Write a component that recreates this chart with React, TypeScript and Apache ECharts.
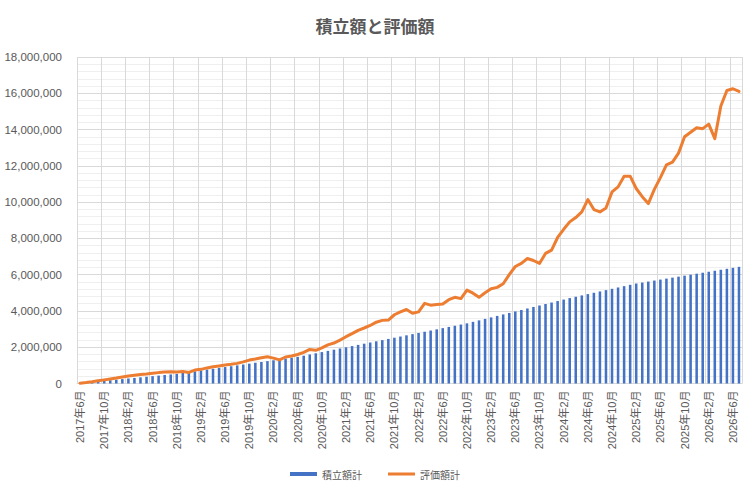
import React, { useEffect, useRef } from "react";
import * as echarts from "echarts";

// 2017年6月 .. 2026年7月 (110 months)
const categories: string[] = [];
for (let y = 2017; y <= 2026; y++) {
  for (let m = 1; m <= 12; m++) {
    if (y === 2017 && m < 6) continue;
    if (y === 2026 && m > 7) continue;
    categories.push(`${y}年${m}月`);
  }
}

// 積立額計 (thousand yen)
const contributionK = [
  20, 52, 84, 116, 148, 180, 212, 244, 276, 308,
  340, 372, 404, 436, 468, 500, 532, 579, 626, 672,
  719, 766, 813, 860, 906, 953, 1000, 1047, 1094, 1140,
  1187, 1234, 1281, 1328, 1374, 1421, 1468, 1534, 1600, 1666,
  1732, 1798, 1864, 1930, 1996, 2062, 2128, 2194, 2260, 2326,
  2392, 2458, 2524, 2590, 2656, 2722, 2788, 2854, 2920, 2986,
  3052, 3118, 3184, 3250, 3316, 3398, 3480, 3562, 3644, 3726,
  3808, 3890, 3972, 4054, 4136, 4218, 4300, 4382, 4464, 4546,
  4628, 4710, 4783, 4856, 4929, 5002, 5075, 5148, 5221, 5294,
  5367, 5440, 5513, 5567, 5621, 5675, 5729, 5783, 5837, 5891,
  5945, 5999, 6053, 6107, 6161, 6215, 6269, 6323, 6377, 6431,
];

// 評価額計 (thousand yen)
const valuationK = [
  20, 50, 95, 150, 200, 250, 300, 360, 410, 460,
  500, 520, 560, 600, 630, 650, 640, 660, 610, 740,
  780, 860, 920, 970, 1020, 1060, 1110, 1190, 1290, 1350,
  1420, 1470, 1400, 1300, 1460, 1520, 1600, 1720, 1880, 1830,
  1960, 2130, 2230, 2390, 2580, 2750, 2930, 3060, 3200, 3380,
  3480, 3500, 3790, 3950, 4080, 3870, 3950, 4420, 4320, 4350,
  4380, 4620, 4750, 4680, 5150, 4980, 4750, 5000, 5220, 5300,
  5500, 6000, 6450, 6620, 6890, 6780, 6620, 7170, 7350, 8050,
  8500, 8910, 9150, 9460, 10140, 9590, 9460, 9680, 10560, 10840,
  11430, 11430, 10750, 10300, 9920, 10700, 11350, 12050, 12200, 12700,
  13600, 13850, 14100, 14050, 14300, 13500, 15300, 16150, 16250, 16100,
];

const contribution = contributionK.map((v) => v * 1000);
const valuation = valuationK.map((v) => v * 1000);

const TEXT = "#595959";
const GRID = "#d9d9d9";
const FONT = "'Liberation Sans', 'Noto Sans CJK JP', sans-serif";
const CJK = "'Noto Sans CJK JP', sans-serif";

export default function App() {
  const ref = useRef<HTMLDivElement>(null);
  useEffect(() => {
    if (!ref.current) return;
    const chart = echarts.init(ref.current, null, { renderer: "svg" });
    chart.setOption({
      animation: false,
      backgroundColor: "#ffffff",
      title: {
        text: "積立額と評価額",
        left: "center",
        top: 12,
        textStyle: { color: TEXT, fontSize: 17, fontWeight: "bold", fontFamily: CJK },
      },
      legend: {
        bottom: 8,
        left: "center",
        itemWidth: 27,
        itemHeight: 10,
        itemGap: 26,
        textStyle: { color: TEXT, fontSize: 10, fontFamily: CJK },
        data: [
          { name: "積立額計", icon: "path://M0 0H27V4H0Z" },
          { name: "評価額計", icon: "path://M0 0H27V3H0Z" },
        ],
      },
      grid: { left: 77, right: 8, top: 57, bottom: 108.5, containLabel: false },
      xAxis: {
        type: "category",
        data: categories,
        boundaryGap: true,
        axisLine: { show: true, lineStyle: { color: GRID, width: 1 } },
        axisTick: { show: false, interval: 3 },
        axisLabel: {
          interval: 3,
          rotate: 90,
          color: TEXT,
          fontSize: 11,
          fontFamily: FONT,
          margin: 7,
        },
        splitLine: { show: true, interval: 3, lineStyle: { color: GRID, width: 1 } },
      },
      yAxis: {
        type: "value",
        min: 0,
        max: 18000000,
        interval: 2000000,
        axisLine: { show: false },
        axisTick: { show: false },
        axisLabel: {
          color: TEXT,
          fontSize: 11.5,
          fontFamily: FONT,
          margin: 15,
          formatter: (v: number) => v.toLocaleString("en-US"),
        },
        splitLine: { show: true, lineStyle: { color: GRID, width: 1 } },
        minorTick: { show: false, splitNumber: 5 },
        minorSplitLine: { show: true, lineStyle: { color: "#efefef", width: 1 } },
      },
      series: [
        {
          name: "積立額計",
          type: "bar",
          data: contribution,
          barWidth: "42%",
          itemStyle: { color: "#4472C4" },
          z: 2,
        },
        {
          name: "評価額計",
          type: "line",
          data: valuation,
          symbol: "none",
          showSymbol: false,
          smooth: false,
          itemStyle: { color: "#ED7D31" },
          lineStyle: { color: "#ED7D31", width: 3, cap: "round", join: "round" },
          z: 3,
        },
      ],
    });
    return () => chart.dispose();
  }, []);
  return (
    <div
      ref={ref}
      style={{ position: "fixed", left: 0, top: 0, width: 750, height: 492, background: "#fff" }}
    />
  );
}
